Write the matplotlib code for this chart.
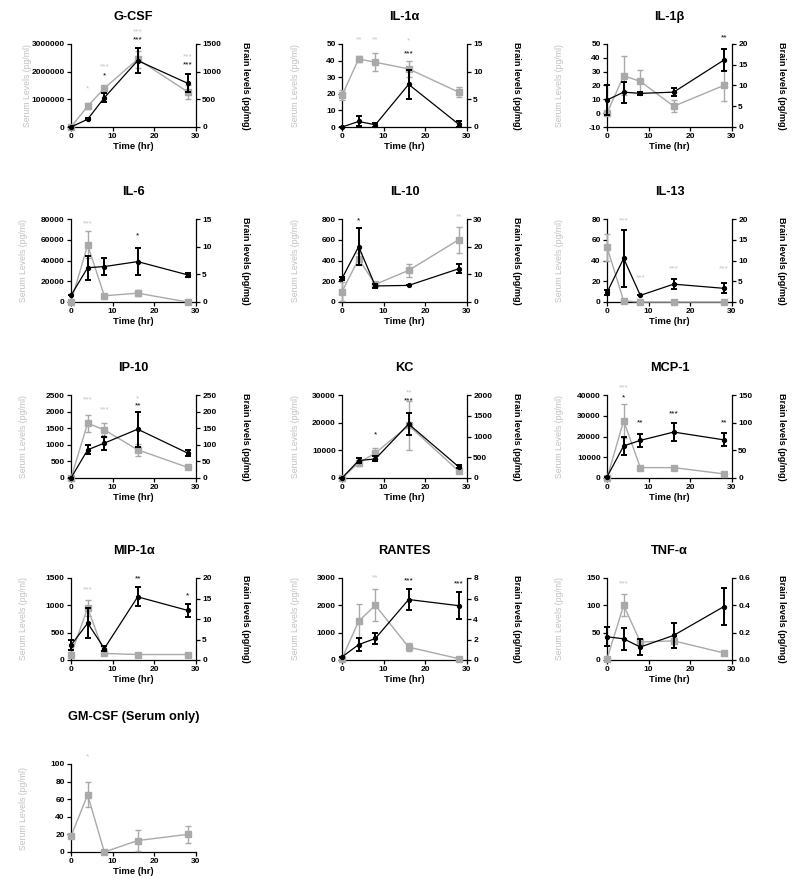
import matplotlib
matplotlib.use("Agg")
import matplotlib.pyplot as plt
import matplotlib.transforms as mtransforms
from matplotlib.ticker import FormatStrFormatter

plt.rcParams['font.family'] = ['Liberation Sans', 'DejaVu Sans']

time = [0, 4, 8, 16, 28]

cytokines = ["G-CSF", "IL-1\u03b1", "IL-1\u03b2", "IL-6", "IL-10", "IL-13",
             "IP-10", "KC", "MCP-1", "MIP-1\u03b1", "RANTES", "TNF-\u03b1",
             "GM-CSF (Serum only)"]

serum_mean = [
    [0, 750000, 1400000, 2450000, 1270000],
    [19, 41, 39, 35, 21],
    [0, 27, 23, 5, 20],
    [0, 55000, 6000, 8500, 0],
    [100, 415, 170, 305, 600],
    [53, 1, 0, 0, 0],
    [0, 1650, 1450, 850, 320],
    [0, 5500, 9000, 19000, 2500],
    [0, 27500, 5000, 5000, 2000],
    [100, 950, 120, 100, 100],
    [50, 1420, 2000, 470, 50],
    [2, 100, 33, 35, 13],
    [18, 65, 0, 13, 20],
]
serum_err = [
    [0, 100000, 80000, 300000, 250000],
    [3, 2, 5.5, 5, 3],
    [0, 14, 8.5, 4.5, 11],
    [0, 13000, 1000, 3000, 0],
    [90, 60, 20, 60, 125],
    [13, 0, 0, 0, 0],
    [0, 250, 200, 180, 30],
    [0, 1000, 2000, 9000, 500],
    [0, 8000, 300, 300, 300],
    [50, 150, 20, 10, 30],
    [0, 620, 580, 150, 20],
    [0, 20, 5, 5, 1],
    [0, 14, 0, 12, 10],
]
brain_mean = [
    [0, 140, 530, 1200, 790],
    [0, 1.0, 0.4, 7.7, 0.5],
    [6.5, 8.4, 8.1, 8.4, 16.1],
    [1.2, 6.2, 6.4, 7.3, 4.9],
    [8.5, 20, 5.8, 6, 12],
    [2.3, 10.5, 1.6, 4.3, 3.3],
    [0, 85, 105, 147, 75],
    [0, 420, 460, 1300, 270],
    [2, 58, 68, 83, 69],
    [3.6, 9.0, 2.8, 15.4, 12.1],
    [0.3, 1.5, 2.1, 5.9, 5.3],
    [0.17, 0.155, 0.095, 0.18, 0.39],
    None,
]
brain_err = [
    [0, 15, 80, 220, 160],
    [0, 0.9, 0.4, 2.6, 0.5],
    [3.5, 2.5, 0.3, 1.0, 2.6],
    [0, 2.2, 1.5, 2.4, 0.3],
    [0.6, 6.7, 0.6, 0, 1.6],
    [0.5, 6.9, 0, 1.2, 1.2],
    [0, 13, 20, 53, 10],
    [0, 60, 60, 260, 40],
    [0, 17, 12, 17, 12],
    [1.2, 3.7, 0.7, 2.3, 1.6],
    [0, 0.6, 0.5, 1.0, 1.3],
    [0.07, 0.08, 0.06, 0.09, 0.135],
    None,
]
serum_ticks = [
    [0, 1000000, 2000000, 3000000],
    [0, 10, 20, 30, 40, 50],
    [-10, 0, 10, 20, 30, 40, 50],
    [0, 20000, 40000, 60000, 80000],
    [0, 200, 400, 600, 800],
    [0, 20, 40, 60, 80],
    [0, 500, 1000, 1500, 2000, 2500],
    [0, 10000, 20000, 30000],
    [0, 10000, 20000, 30000, 40000],
    [0, 500, 1000, 1500],
    [0, 1000, 2000, 3000],
    [0, 50, 100, 150],
    [0, 20, 40, 60, 80, 100],
]
brain_ticks = [
    [0, 500, 1000, 1500],
    [0, 5, 10, 15],
    [0, 5, 10, 15, 20],
    [0, 5, 10, 15],
    [0, 10, 20, 30],
    [0, 5, 10, 15, 20],
    [0, 50, 100, 150, 200, 250],
    [0, 500, 1000, 1500, 2000],
    [0, 50, 100, 150],
    [0, 5, 10, 15, 20],
    [0, 2, 4, 6, 8],
    [0.0, 0.2, 0.4, 0.6],
    None,
]
# significance marks: (time, height as axes fraction, text, series)
stars = [
    [(4, 0.46, "*", "s"), (8, 0.72, "***", "s"), (8, 0.62, "*", "b"),
     (16, 1.14, "***", "s"), (16, 1.05, "***", "b"),
     (28, 0.85, "***", "s"), (28, 0.75, "***", "b")],
    [(4, 1.05, "**", "s"), (8, 1.05, "**", "s"), (16, 1.04, "*", "s"),
     (16, 0.88, "***", "b")],
    [(28, 1.07, "**", "b")],
    [(4, 0.94, "***", "s"), (16, 0.80, "*", "b")],
    [(4, 0.98, "*", "b"), (28, 1.03, "**", "s")],
    [(4, 0.98, "***", "s"), (8, 0.29, "***", "s"), (16, 0.40, "***", "s"),
     (28, 0.40, "***", "s")],
    [(4, 0.94, "***", "s"), (8, 0.82, "***", "s"), (16, 0.95, "*", "s"),
     (16, 0.87, "**", "b"), (8, 0.48, "**", "b")],
    [(8, 0.52, "*", "b"), (16, 1.03, "**", "s"), (16, 0.93, "***", "b")],
    [(4, 1.09, "***", "s"), (4, 0.97, "*", "b"), (8, 0.66, "**", "b"),
     (16, 0.77, "***", "b"), (28, 0.66, "**", "b")],
    [(4, 0.86, "***", "s"), (16, 0.99, "**", "b"), (28, 0.78, "*", "b")],
    [(8, 1.0, "**", "s"), (16, 0.97, "***", "b"), (28, 0.93, "***", "b")],
    [(4, 0.93, "***", "s")],
    [(4, 1.08, "*", "s")],
]

# layout (pixels in an 800x885 figure)
col_x = [71, 342, 607]
row_top = [44, 219, 395, 578, 764]
row_h = [83, 83, 83, 82, 88]
ax_w = 125
W, H = 800, 885

serum_col = "#a9a9a9"
star_col = "#c4c4c4"
label_col = "#c0c0c0"

fig = plt.figure(figsize=(W / 100, H / 100), dpi=100)

for i, name in enumerate(cytokines):
    r, c = divmod(i, 3)
    left = col_x[c] / W
    bottom = 1 - (row_top[r] + row_h[r]) / H
    ax = fig.add_axes([left, bottom, ax_w / W, row_h[r] / H])
    st = serum_ticks[i]
    ax.errorbar(time, serum_mean[i], yerr=serum_err[i], color=serum_col,
                marker="s", ms=3.8, lw=1.0, elinewidth=1.0, capsize=2.2,
                capthick=1.0, clip_on=False, zorder=3)
    ax.set_xlim(0, 30)
    ax.set_ylim(st[0], st[-1])
    ax.set_yticks(st)
    ax.yaxis.set_major_formatter(FormatStrFormatter('%d'))
    ax.set_xticks([0, 10, 20, 30])
    ax.spines['top'].set_visible(False)
    ax.spines['right'].set_visible(False)
    for sp in ('left', 'bottom'):
        ax.spines[sp].set_linewidth(0.9)
    ax.tick_params(labelsize=6, length=3, width=0.9, pad=1.5)
    for lab in ax.get_xticklabels() + ax.get_yticklabels():
        lab.set_fontweight('bold')
    ax.set_xlabel("Time (hr)", fontsize=6.8, fontweight='bold', labelpad=1.5)
    ax.set_ylabel("Serum Levels (pg/ml)", fontsize=6.2, color=label_col)
    ax.yaxis.set_label_coords(-0.34 if i != 0 else -0.31, 0.5)
    ax.set_title(name, fontsize=9.2, fontweight='bold',
                 pad=17 if i != 12 else 32)

    if brain_mean[i] is not None:
        ax2 = ax.twinx()
        bt = brain_ticks[i]
        ax2.errorbar(time, brain_mean[i], yerr=brain_err[i], color="black",
                     marker="o", ms=2.8, lw=0.9, elinewidth=1.4, capsize=2.4,
                     capthick=1.4, clip_on=False, zorder=4)
        ax2.set_ylim(bt[0], bt[-1])
        ax2.set_yticks(bt)
        if i == 11:
            ax2.yaxis.set_major_formatter(FormatStrFormatter('%.1f'))
        ax2.spines['top'].set_visible(False)
        ax2.spines['right'].set_linewidth(0.9)
        ax2.spines['left'].set_visible(False)
        ax2.spines['bottom'].set_visible(False)
        ax2.tick_params(labelsize=6, length=3, width=0.9, pad=1.5)
        for lab in ax2.get_yticklabels():
            lab.set_fontweight('bold')
        ax2.set_ylabel("Brain levels (pg/mg)", fontsize=6.6, fontweight='bold',
                       rotation=270)
        ax2.yaxis.set_label_coords(1.43, 0.5)

    trans = mtransforms.blended_transform_factory(ax.transData, ax.transAxes)
    for (tx, fy, txt, which) in stars[i]:
        ax.text(tx, fy, txt, transform=trans, ha='center', va='center',
                fontsize=6, color=star_col if which == "s" else "black",
                clip_on=False, zorder=6)

fig.savefig("out.png", dpi=100)
